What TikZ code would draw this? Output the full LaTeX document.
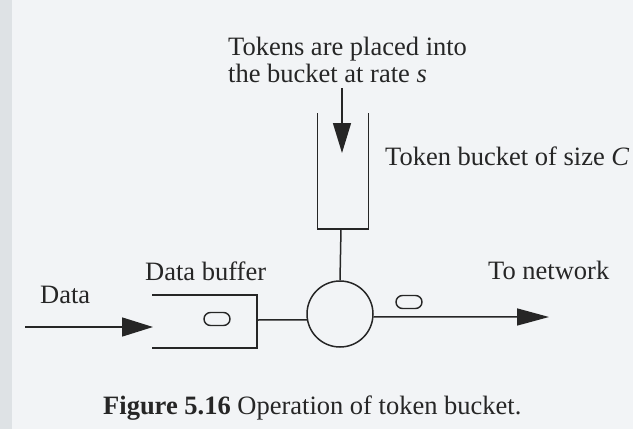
\documentclass[tikz,border=0pt]{standalone}
\usepackage{fontspec}
\setmainfont{Liberation Serif}
\usetikzlibrary{arrows.meta}
\definecolor{paper}{RGB}{242,244,246}
\definecolor{edge}{RGB}{222,226,229}
\definecolor{ink}{RGB}{38,38,38}
\tikzset{
  wire/.style={draw=ink, line width=1.5pt},
  lbl/.style={text=ink, inner sep=0pt, font=\fontsize{26.5}{30}\selectfont},
  packet/.style={draw=ink, line width=1.4pt, rectangle, rounded corners=6.5pt, minimum width=26pt, minimum height=13pt, inner sep=0pt},
  bigtip/.style={-{Triangle[length=31pt,width=19pt]}}
}
\begin{document}
\begin{tikzpicture}[x=1pt,y=-1pt]
\useasboundingbox (0,0) rectangle (633,429);
\fill[paper] (0,0) rectangle (633,429);
\fill[edge] (0,0) rectangle (12,429);

% texts
\node[lbl, anchor=base west] (tok1) at (228,55) {Tokens are placed into};
\node[lbl, anchor=base west] (tok2) at (228,82) {the bucket at rate \textit{s}};
\node[lbl, anchor=base west] (bucketlbl) at (385,165) {Token bucket of size \textit{C}};
\node[lbl, anchor=base west] (databuf) at (145,280) {Data buffer};
\node[lbl, anchor=base west] (datalbl) at (40,303) {Data};
\node[lbl, anchor=base west] (tonet) at (488,279) {To network};
\node[lbl, anchor=base west] (caption) at (103,414) {\textbf{Figure 5.16} Operation of token bucket.};

% token bucket
\coordinate (bktL) at (317.5,113);
\coordinate (bktR) at (368.5,113);
\coordinate (bktB) at (341,229);
\draw[wire] (bktL) -- (317.5,229) -- (368.5,229) -- (bktR);

% tokens arriving
\coordinate (tokin) at (342,88);
\coordinate (tokout) at (342,153);
\draw[wire, -{Triangle[length=30pt,width=18pt]}] (tokin) -- (tokout);

% regulator
\node[draw=ink, line width=1.5pt, circle, minimum size=66pt, inner sep=0pt] (reg) at (340,314) {};
\draw[wire] (bktB) -- (reg.north);

% data buffer
\draw[wire] (152,295) -- (257,295) -- (257,348) -- (152,348);
\coordinate (bufR) at (257,320);
\node[packet] (pkt1) at (217,319) {};
\draw[wire] (bufR) -- (reg.190);

% data input
\coordinate (din) at (25,327);
\coordinate (dend) at (153,327);
\draw[wire, bigtip] (din) -- (dend);

% output
\node[packet] (pkt2) at (409,302) {};
\coordinate (outend) at (549,317);
\draw[wire, -{Triangle[length=32pt,width=17pt]}] (reg.-5) -- (outend);
\end{tikzpicture}
\end{document}
